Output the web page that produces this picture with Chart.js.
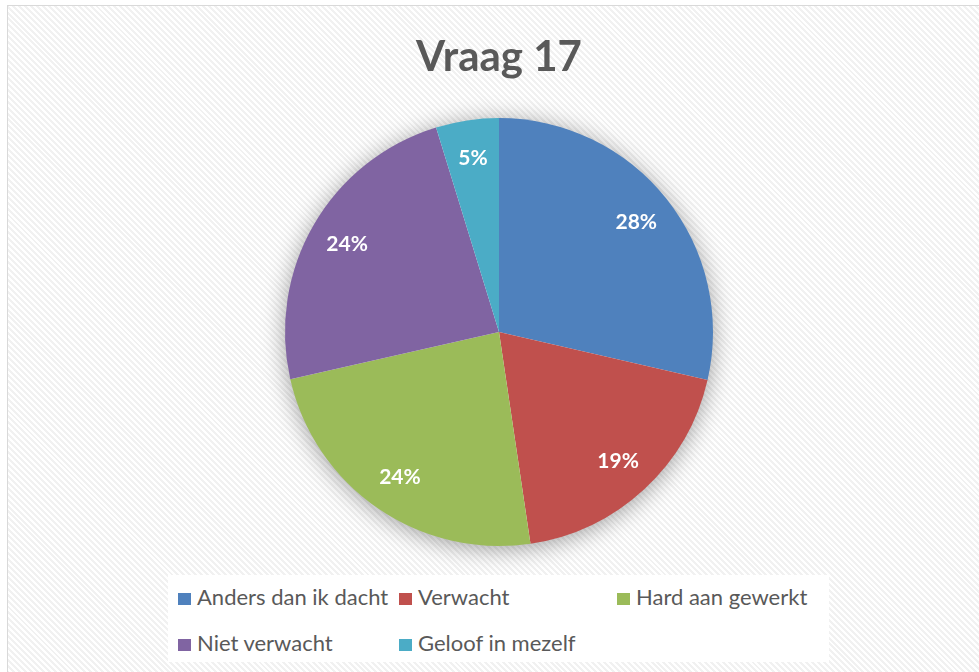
<!DOCTYPE html>
<html lang="nl">
<head>
  <meta charset="UTF-8" />
  <title>Vraag 17</title>
  <script src="https://cdn.jsdelivr.net/npm/chart.js"></script>
  <style>
    html, body {
      margin: 0;
      padding: 0;
      width: 979px;
      height: 672px;
      overflow: hidden;
      background: #fff;
      font-family: Lato, 'Open Sans', sans-serif;
    }

    #frame {
      position: absolute;
      left: 7px;
      top: 5px;
      width: 1000px;
      height: 700px;
      border: 1px solid #d9d9d9;
      background: repeating-linear-gradient(45deg, #ffffff 0px, #ffffff 2.1px, #f1f1f1 2.1px, #f1f1f1 4.2px);
    }

    #chart {
      position: absolute;
      left: 0;
      top: 0;
    }

    /* legend box under the pie */
    #legend {
      position: absolute;
      left: 168px;
      top: 575px;
      width: 661px;
      height: 87px;
      background: #fff;
      display: grid;
      grid-template-columns: 221px 218px auto;
      grid-auto-rows: 46px;
      padding: 9px 0 0 10px;
      box-sizing: border-box;
    }

    .item {
      display: flex;
      align-items: baseline;
      font-size: 22px;
      color: #595959;
      white-space: nowrap;
      line-height: 26px;
    }

    .swatch {
      display: inline-block;
      width: 13px;
      height: 12px;
      margin-right: 6px;
    }
  </style>
</head>
<body>
  <div id="frame"></div>
  <canvas id="chart" width="979" height="672"></canvas>
  <div id="legend"></div>

  <script>
    const categories = ['Anders dan ik dacht', 'Verwacht', 'Hard aan gewerkt', 'Niet verwacht', 'Geloof in mezelf'];
    // slice shares
    const shares = [28.6, 19.05, 23.8, 23.8, 4.75];
    // percentages printed on the slices
    const shareLabels = ['28%', '19%', '24%', '24%', '5%'];
    const colors = ['#4f81bd', '#c0504d', '#9bbb59', '#8064a2', '#4bacc6'];
    const chartTitle = 'Vraag 17';

    // soft shadow behind the whole pie
    const pieShadow = {
      id: 'pieShadow',
      beforeDatasetsDraw(chart) {
        const arc = chart.getDatasetMeta(0).data[0];
        if (!arc) return;
        const { x, y, outerRadius } = arc.getProps(['x', 'y', 'outerRadius'], true);
        const ctx = chart.ctx;
        ctx.save();
        ctx.shadowColor = 'rgba(0,0,0,0.4)';
        ctx.shadowBlur = 24;
        ctx.shadowOffsetY = 3;
        ctx.fillStyle = '#ffffff';
        ctx.beginPath();
        ctx.arc(x, y, outerRadius - 1, 0, Math.PI * 2);
        ctx.fill();
        ctx.restore();
      }
    };

    // percentage labels inside the slices
    const sliceLabels = {
      id: 'sliceLabels',
      afterDatasetsDraw(chart) {
        const ctx = chart.ctx;
        ctx.save();
        ctx.font = 'bold 21px Lato, sans-serif';
        ctx.fillStyle = '#ffffff';
        ctx.textAlign = 'center';
        ctx.textBaseline = 'middle';
        chart.getDatasetMeta(0).data.forEach((arc, i) => {
          const p = arc.getProps(['x', 'y', 'startAngle', 'endAngle', 'outerRadius'], true);
          const mid = (p.startAngle + p.endAngle) / 2;
          const r = p.outerRadius * 0.82;
          ctx.fillText(shareLabels[i], p.x + Math.cos(mid) * r, p.y + Math.sin(mid) * r);
        });
        ctx.restore();
      }
    };

    const chart = new Chart(document.getElementById('chart'), {
      type: 'pie',
      data: {
        labels: categories,
        datasets: [{
          data: shares,
          backgroundColor: colors,
          borderWidth: 0
        }]
      },
      options: {
        responsive: false,
        animation: false,
        layout: { padding: { left: 19, top: 0, right: 0, bottom: 126 } },
        plugins: {
          legend: { display: false },
          tooltip: { enabled: false },
          title: {
            display: true,
            text: chartTitle,
            color: '#595959',
            font: { family: 'Lato', size: 42, weight: 'bold', lineHeight: 1.2 },
            padding: { top: 32, bottom: 35.6 }
          }
        }
      },
      plugins: [pieShadow, sliceLabels]
    });

    // html legend from the chart's own labels
    const legend = document.getElementById('legend');
    Chart.overrides.pie.plugins.legend.labels.generateLabels(chart).forEach(item => {
      const el = document.createElement('div');
      el.className = 'item';
      el.innerHTML = `<span class="swatch" style="background:${item.fillStyle}"></span>${item.text}`;
      legend.appendChild(el);
    });
  </script>
</body>
</html>
